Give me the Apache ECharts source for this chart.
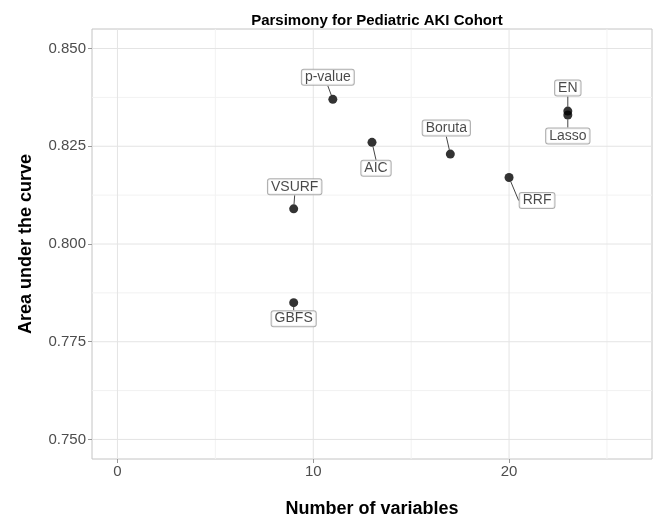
<!DOCTYPE html>
<html>
<head>
<meta charset="utf-8">
<script src="https://cdn.jsdelivr.net/npm/echarts@6/dist/echarts.min.js"></script>
<style>html,body{margin:0;padding:0;background:#fff}#chart{width:663px;height:520px}</style>
</head>
<body>
<div id="chart"></div>
<script>
const methods = ['p-value', 'AIC', 'Boruta', 'RRF', 'EN', 'Lasso', 'VSURF', 'GBFS'];
const numVars = [11, 13, 17, 20, 23, 23, 9, 9];
const auc = [0.837, 0.826, 0.823, 0.817, 0.834, 0.833, 0.809, 0.785];
const xTicks = [0, 10, 20];
const xMinor = [5, 15, 25];
const yTicks = [0.750, 0.775, 0.800, 0.825, 0.850];
const yMinor = [0.7625, 0.7875, 0.8125, 0.8375];
const xRange = [-1.3, 27.3];
const yRange = [0.745, 0.855];
// label displacement (pixels) for repelled labels
const labelShift = [[-5, -22], [4, 26], [-4, -26], [28, 23], [0, -23], [0, 21], [1, -22], [0, 16]];

const chart = echarts.init(document.getElementById('chart'));
const majorStyle = {color: '#e4e4e4', width: 1};
const minorStyle = {color: '#f2f2f2', width: 1};
function gridSeries(v, vertical, style) {
  return {
    type: 'line', silent: true, z: 1, symbol: 'none', animation: false,
    lineStyle: style,
    data: vertical ? [[v, yRange[0]], [v, yRange[1]]] : [[xRange[0], v], [xRange[1], v]]
  };
}
const gridLineSeries = []
  .concat(xMinor.map(v => gridSeries(v, true, minorStyle)))
  .concat(yMinor.map(v => gridSeries(v, false, minorStyle)))
  .concat(xTicks.map(v => gridSeries(v, true, majorStyle)))
  .concat(yTicks.map(v => gridSeries(v, false, majorStyle)));

chart.setOption({
  animation: false,
  backgroundColor: '#fff',
  title: {
    text: 'Parsimony for Pediatric AKI Cohort',
    left: 372, top: 8, textAlign: 'center',
    textStyle: {fontFamily: 'Liberation Sans', fontWeight: 'bold', fontSize: 15, color: '#000'}
  },
  grid: {left: 92, right: 11, top: 29, bottom: 61, show: true, borderColor: '#c4c4c4', borderWidth: 1,
    backgroundColor: '#fff', containLabel: false, outerBoundsMode: 'none'},
  xAxis: {
    type: 'value', min: xRange[0], max: xRange[1],
    name: 'Number of variables', nameLocation: 'middle', nameGap: 41,
    nameTextStyle: {fontFamily: 'Liberation Sans', fontWeight: 'bold', fontSize: 18, color: '#000'},
    axisLine: {show: false, onZero: false},
    axisTick: {show: true, length: 4, customValues: xTicks, lineStyle: {color: '#999'}},
    axisLabel: {customValues: xTicks, margin: 5,
      fontFamily: 'Liberation Sans', fontSize: 15, color: '#4d4d4d'},
    splitLine: {show: false},
    minorSplitLine: {show: false}
  },
  yAxis: {
    type: 'value', min: yRange[0], max: yRange[1],
    name: 'Area under the curve', nameLocation: 'middle', nameGap: 57, nameRotate: 90,
    nameTextStyle: {fontFamily: 'Liberation Sans', fontWeight: 'bold', fontSize: 18, color: '#000'},
    axisLine: {show: false, onZero: false},
    axisTick: {show: true, length: 4, customValues: yTicks, lineStyle: {color: '#999'}},
    axisLabel: {customValues: yTicks, margin: 6,
      fontFamily: 'Liberation Sans', fontSize: 15, color: '#4d4d4d',
      formatter: v => v.toFixed(3)},
    splitLine: {show: false},
    minorSplitLine: {show: false}
  },
  series: gridLineSeries.concat([
    {
      type: 'scatter', z: 3,
      data: numVars.map((x, i) => [x, auc[i], methods[i]]),
      symbolSize: 9,
      itemStyle: {color: '#000'},
      label: {
        show: true, position: 'inside',
        formatter: p => p.data[2],
        fontFamily: 'Liberation Sans', fontSize: 14, color: '#1a1a1a',
        backgroundColor: '#fff', borderColor: '#9a9a9a', borderWidth: 1, borderRadius: 2,
        padding: [1, 3, 0, 3], lineHeight: 14
      },
      labelLine: {show: true, lineStyle: {color: '#444', width: 1}},
      labelLayout: p => ({dx: labelShift[p.dataIndex][0], dy: labelShift[p.dataIndex][1]})
    }
  ])
});
</script>
</body>
</html>
